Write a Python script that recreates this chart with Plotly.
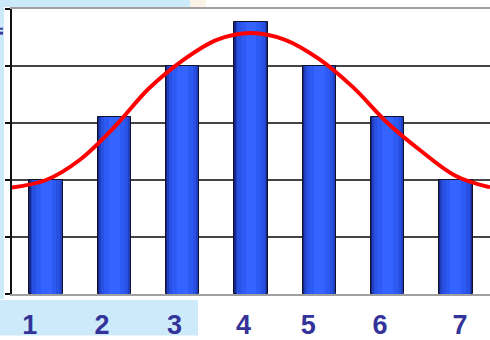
import plotly.graph_objects as go

# bar chart data (category 1..7)
categories = [1, 2, 3, 4, 5, 6, 7]
bar_values = [2.0, 3.1, 4.0, 4.77, 4.0, 3.1, 2.0]

# smooth red curve
curve_x = [0.5, 1.0, 1.5, 2.0, 2.5, 3.0, 3.5, 4.0, 4.5, 5.0, 5.5, 6.0, 6.5, 7.0, 7.5]
curve_y = [1.87, 2.0, 2.36, 2.93, 3.6, 4.1, 4.46, 4.58, 4.46, 4.12, 3.62, 3.0, 2.5, 2.07, 1.87]

# the number labels under the chart sit a little left of the bars
label_pos = [0.76, 1.82, 2.88, 3.89, 4.84, 5.89, 7.06]
label_text = ["1", "2", "3", "4", "5", "6", "7"]

W, H = 490, 340
ML, MR, MT, MB = 12, 0, 9, 42

fig = go.Figure()

# fake cylinder shading: stacked narrower bars, dark edges -> bright centre
layers = [
    (0.49, "#18288a", dict(color="#10102a", width=1)),
    (0.45, "#2040c0", dict(width=0)),
    (0.40, "#2851e4", dict(width=0)),
    (0.30, "#2d5af2", dict(width=0)),
    (0.16, "#3463ff", dict(width=0)),
]
for w, c, ln in layers:
    fig.add_trace(go.Bar(x=categories, y=bar_values, width=w,
                         marker=dict(color=c, line=ln), showlegend=False,
                         hoverinfo="skip"))

fig.add_trace(go.Scatter(x=curve_x, y=curve_y, mode="lines",
                         line=dict(color="#ff0000", width=4, shape="spline", smoothing=1),
                         showlegend=False))

# light blue slide background around the chart (pixel -> paper coords)
pw, ph = W - ML - MR, H - MT - MB
def px(x):
    return (x - ML) / pw
def py(y):
    return (H - MB - y) / ph

bg = "#cdeafb"
shapes = [
    dict(type="rect", x0=px(0), x1=px(190), y0=py(7), y1=py(0), fillcolor=bg),
    dict(type="rect", x0=px(190), x1=px(206), y0=py(7), y1=py(0), fillcolor="#fbf3e6"),
    dict(type="rect", x0=px(0), x1=px(4), y0=py(303), y1=py(0), fillcolor=bg),
    dict(type="rect", x0=px(0), x1=px(198), y0=py(H), y1=py(304), fillcolor=bg),
    dict(type="rect", x0=px(0), x1=px(3), y0=py(35), y1=py(32), fillcolor="#3a3aa0"),
    dict(type="rect", x0=px(0), x1=px(3), y0=py(30), y1=py(28), fillcolor="#3a3aa0"),
]
for s in shapes:
    s.update(xref="paper", yref="paper", layer="below", line=dict(width=0))

fig.update_layout(
    width=W, height=H,
    margin=dict(l=ML, r=MR, t=MT, b=MB),
    paper_bgcolor="white", plot_bgcolor="white",
    barmode="overlay", bargap=0,
    shapes=shapes,
    xaxis=dict(range=[0.5, 7.5], tickvals=label_pos, ticktext=label_text,
               ticks="", showgrid=False, zeroline=False,
               showline=True, linecolor="#a0a0a0", linewidth=2, mirror=True,
               tickfont=dict(family="Liberation Sans", size=27, color="#333399"),
               ticklabelstandoff=6),
    yaxis=dict(range=[0, 5], dtick=1, showticklabels=False,
               showgrid=True, gridcolor="#444444", gridwidth=1.6, zeroline=False,
               showline=True, linecolor="#111111", linewidth=2,
               ticks="outside", ticklen=5, tickcolor="#111111", tickwidth=1.6),
    font=dict(family="Liberation Sans"),
)
fig.update_xaxes(tickfont_weight="bold")

# page body has a default 8px margin; drop it so the figure fills the window
fig.write_html("out.html", config={"displayModeBar": False},
               post_script="document.body.style.margin='0';")
